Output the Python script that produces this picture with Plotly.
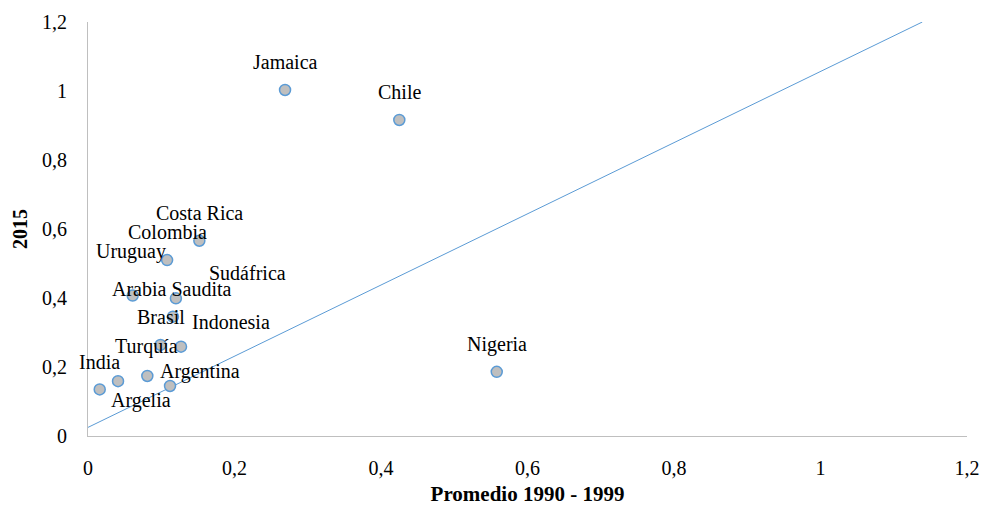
import plotly.graph_objects as go

# Data
countries = ["Jamaica", "Chile", "Nigeria", "Costa Rica", "Colombia", "Uruguay",
             "Arabia Saudita", "Brasil", "Turquía", "Indonesia", "Argentina",
             "Argelia", "India", "Sudáfrica"]
prom_1990_1999 = [0.269, 0.425, 0.558, 0.152, 0.108, 0.061,
                  0.120, 0.116, 0.099, 0.127, 0.081,
                  0.041, 0.016, 0.112]
valor_2015 = [1.003, 0.916, 0.186, 0.566, 0.510, 0.407,
              0.399, 0.346, 0.264, 0.259, 0.174,
              0.159, 0.135, 0.145]

# Reference line (straight line drawn across the chart)
ref_line_x = [0.0, 1.139]
ref_line_y = [0.025, 1.2]

# Label placement offsets in pixels (style only)
label_dx = [0, 0, 0, 0, 0, -2, -4, -12, -14, 50, 53, 23, 0, 77]
label_dy = [28, 28, 27, 28, 28, 44, 9, 0, -2, 25, 4, -19, 27, 113]

FONT = "Liberation Serif"

fig = go.Figure()
fig.add_trace(go.Scatter(
    x=ref_line_x, y=ref_line_y, mode="lines",
    line=dict(color="#5B9BD5", width=1), hoverinfo="skip", showlegend=False))
fig.add_trace(go.Scatter(
    x=prom_1990_1999, y=valor_2015, mode="markers", text=countries,
    marker=dict(size=11, color="#BFBFBF", line=dict(color="#5B9BD5", width=1.5)),
    showlegend=False, cliponaxis=False))

for name, xv, yv, dx, dy in zip(countries, prom_1990_1999, valor_2015, label_dx, label_dy):
    fig.add_annotation(x=xv, y=yv, text=name, showarrow=False,
                       xshift=dx, yshift=dy,
                       font=dict(family=FONT, size=20, color="#000000"))

fig.update_layout(
    width=987, height=506,
    margin=dict(l=88, r=20, t=22, b=70, autoexpand=False),
    paper_bgcolor="white", plot_bgcolor="white",
    separators=",.",
    font=dict(family=FONT, size=19, color="#000000"),
    showlegend=False,
)
fig.update_xaxes(
    range=[0, 1.2], dtick=0.2, tick0=0, showgrid=False, zeroline=False,
    showline=True, linecolor="#BFBFBF", linewidth=1, ticks="",
    automargin=False, ticklabelstandoff=14,
    tickfont=dict(family=FONT, size=20),
    title=dict(text="<b>Promedio 1990 - 1999</b>", font=dict(family=FONT, size=21), standoff=12),
)
fig.update_yaxes(
    range=[0, 1.2], dtick=0.2, tick0=0, showgrid=False, zeroline=False,
    showline=True, linecolor="#BFBFBF", linewidth=1, ticks="",
    automargin=False, ticklabelstandoff=16,
    tickfont=dict(family=FONT, size=20),
    title=dict(text="<b>2015</b>", font=dict(family=FONT, size=20), standoff=9),
)

fig.write_html("out.html", config={"displayModeBar": False},
               post_script="document.body.style.margin='0';document.body.style.overflow='hidden';")
